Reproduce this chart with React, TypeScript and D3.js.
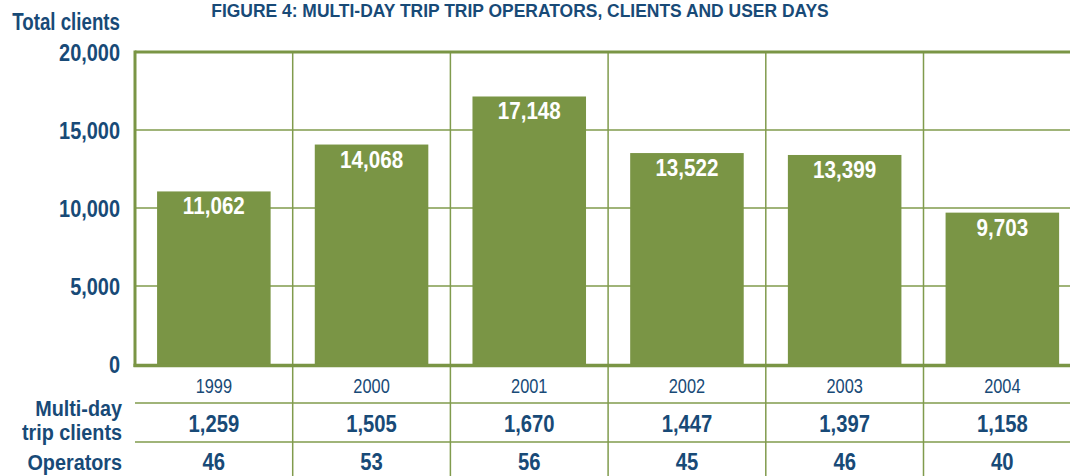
import React, { useEffect, useRef } from 'react';
import * as d3 from 'd3';

const years = ['1999', '2000', '2001', '2002', '2003', '2004'];
const totalClients = [11062, 14068, 17148, 13522, 13399, 9703];
const multiDayClients = [1259, 1505, 1670, 1447, 1397, 1158];
const operators = [46, 53, 56, 45, 46, 40];
const yTicks = [0, 5000, 10000, 15000, 20000];

const width = 1070;
const height = 476;
const green = '#7a9545';
const gridGreen = '#809b4d';
const blue = '#184a77';
const font = "'Liberation Sans', Arial, sans-serif";

export default function App() {
    const ref = useRef<SVGSVGElement>(null);

    useEffect(() => {
        const svg = d3.select(ref.current);
        svg.selectAll('*').remove();

        const left = 135;
        const colW = 157.7;
        const x = d3.scaleBand()
            .domain(years)
            .range([left, left + colW * years.length])
            .paddingInner(0.28)
            .paddingOuter(0.14);
        const y = d3.scaleLinear().domain([0, 20000]).range([364, 52]);
        const fmt = d3.format(',');
        // horizontal squeeze fakes the condensed face of the original
        const at = (px: number, py: number, sx = 0.8) => `translate(${px},${py}) scale(${sx},1)`;

        // title
        svg.append('text')
            .attr('transform', at(520, 17, 0.97))
            .attr('text-anchor', 'middle')
            .attr('font-family', font).attr('font-weight', 'bold')
            .attr('font-size', 18).attr('fill', blue)
            .text('FIGURE 4: MULTI-DAY TRIP TRIP OPERATORS, CLIENTS AND USER DAYS');

        svg.append('text')
            .attr('transform', at(120, 30, 0.78))
            .attr('text-anchor', 'end')
            .attr('font-family', font).attr('font-weight', 'bold')
            .attr('font-size', 24).attr('fill', blue)
            .text('Total clients');

        // horizontal gridlines
        svg.append('g').selectAll('line')
            .data(yTicks.filter(d => d > 0 && d < 20000))
            .join('line')
            .attr('x1', left).attr('x2', width)
            .attr('y1', d => y(d)).attr('y2', d => y(d))
            .attr('stroke', gridGreen).attr('stroke-width', 1.5);

        // vertical column separators, running down through the table
        const seps = d3.range(1, years.length + 1).map(i => left + i * colW);
        svg.append('g').selectAll('line')
            .data(seps)
            .join('line')
            .attr('x1', d => d).attr('x2', d => d)
            .attr('y1', y(20000)).attr('y2', height)
            .attr('stroke', gridGreen).attr('stroke-width', 1.5);

        // bars
        svg.append('g').selectAll('rect')
            .data(totalClients)
            .join('rect')
            .attr('x', (d, i) => x(years[i])!)
            .attr('width', x.bandwidth())
            .attr('y', d => y(d))
            .attr('height', d => y(0) - y(d))
            .attr('fill', green);

        svg.append('g').selectAll('text')
            .data(totalClients)
            .join('text')
            .attr('transform', (d, i) => at(x(years[i])! + x.bandwidth() / 2, y(d) + 23, 0.86))
            .attr('text-anchor', 'middle')
            .attr('font-family', font).attr('font-weight', 'bold')
            .attr('font-size', 24).attr('fill', '#fff')
            .text(d => fmt(d));

        // frame: left, top and bottom axis lines
        svg.append('line')
            .attr('x1', left).attr('x2', left)
            .attr('y1', y(20000) - 1.5).attr('y2', y(0) + 3)
            .attr('stroke', green).attr('stroke-width', 3);
        svg.append('line')
            .attr('x1', left).attr('x2', width)
            .attr('y1', y(20000)).attr('y2', y(20000))
            .attr('stroke', green).attr('stroke-width', 3);
        svg.append('line')
            .attr('x1', left - 1.5).attr('x2', width)
            .attr('y1', y(0) + 1.5).attr('y2', y(0) + 1.5)
            .attr('stroke', green).attr('stroke-width', 3.5);

        // y tick labels
        svg.append('g').selectAll('text')
            .data(yTicks)
            .join('text')
            .attr('transform', d => at(120, y(d) + 9, 0.83))
            .attr('text-anchor', 'end')
            .attr('font-family', font).attr('font-weight', 'bold')
            .attr('font-size', 24).attr('fill', blue)
            .text(d => fmt(d));

        // table below the chart
        const rowLines = [403, 442];
        svg.append('g').selectAll('line')
            .data(rowLines)
            .join('line')
            .attr('x1', left).attr('x2', width)
            .attr('y1', d => d).attr('y2', d => d)
            .attr('stroke', gridGreen).attr('stroke-width', 1.5);

        const cx = (i: number) => left + colW * i + colW / 2;

        svg.append('g').selectAll('text')
            .data(years)
            .join('text')
            .attr('transform', (d, i) => at(cx(i), 393, 0.78))
            .attr('text-anchor', 'middle')
            .attr('font-family', font)
            .attr('font-size', 21).attr('fill', blue)
            .text(d => d);

        svg.append('g').selectAll('text')
            .data(multiDayClients)
            .join('text')
            .attr('transform', (d, i) => at(cx(i), 432, 0.88))
            .attr('text-anchor', 'middle')
            .attr('font-family', font).attr('font-weight', 'bold')
            .attr('font-size', 23).attr('fill', blue)
            .text(d => fmt(d));

        svg.append('g').selectAll('text')
            .data(operators)
            .join('text')
            .attr('transform', (d, i) => at(cx(i), 470, 0.88))
            .attr('text-anchor', 'middle')
            .attr('font-family', font).attr('font-weight', 'bold')
            .attr('font-size', 23).attr('fill', blue)
            .text(d => d);

        const rowLabels: [string, number][] = [
            ['Multi-day', 416],
            ['trip clients', 440],
            ['Operators', 470]
        ];
        svg.append('g').selectAll('text')
            .data(rowLabels)
            .join('text')
            .attr('transform', d => at(122, d[1], 0.9))
            .attr('text-anchor', 'end')
            .attr('font-family', font).attr('font-weight', 'bold')
            .attr('font-size', 22).attr('fill', blue)
            .text(d => d[0]);
    }, []);

    return (
        <svg ref={ref} width={width} height={height}
            style={{ position: 'absolute', left: 0, top: 0 }} />
    );
}
